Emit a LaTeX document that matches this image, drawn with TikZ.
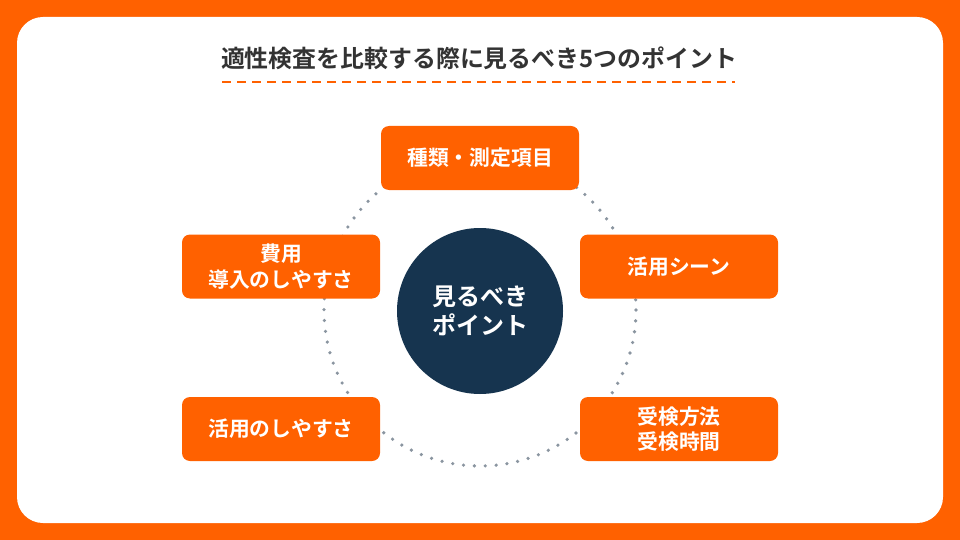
\documentclass[tikz,border=0pt]{standalone}
\usepackage{fontspec}
\setmainfont{Noto Sans CJK JP}[BoldFont={Noto Sans CJK JP Bold}]
\definecolor{bgorange}{HTML}{FF6100}
\definecolor{navy}{HTML}{16344F}
\definecolor{dotgray}{HTML}{8A95A0}
\definecolor{titlegray}{HTML}{333333}
\tikzset{
  pointbox/.style={fill=bgorange, rounded corners=8pt, minimum width=198pt, minimum height=64pt,
    text=white, font=\bfseries\fontsize{20.8}{25.5}\selectfont, align=center, inner sep=0pt},
}
\begin{document}
\begin{tikzpicture}[x=1pt,y=-1pt]
\fill[bgorange] (0,0) rectangle (960,540);
\useasboundingbox (0,0) rectangle (960,540);
\fill[white, rounded corners=26pt] (17,17) rectangle (943,523);
\node[font=\bfseries\fontsize{23.9}{28}\selectfont, text=titlegray, inner sep=0pt] (title) at (479,58) {適性検査を比較する際に見るべき5つのポイント};
\coordinate (dl) at (222,82);
\coordinate (dr) at (735,82);
\draw[bgorange, line width=2.4pt, dash pattern=on 9pt off 6pt] (dl) -- (dr);
\coordinate (cc) at (480,310);
\draw[dotgray, line width=3.6pt, line cap=round, dash pattern=on 0pt off 10.9pt] (cc) circle[radius=156];
\node[circle, fill=navy, minimum size=166pt, inner sep=0pt, text=white, align=center,
  font=\bfseries\fontsize{24}{29}\selectfont] (center) at (480,311) {見るべき\\ポイント};
\node[pointbox] (b1) at (480,158) {種類・測定項目};
\node[pointbox] (b2) at (679,266.5) {活用シーン};
\node[pointbox] (b3) at (281,266.5) {費用\\導入のしやすさ};
\node[pointbox] (b4) at (281,429) {活用のしやすさ};
\node[pointbox] (b5) at (679,429) {受検方法\\受検時間};
\end{tikzpicture}
\end{document}
